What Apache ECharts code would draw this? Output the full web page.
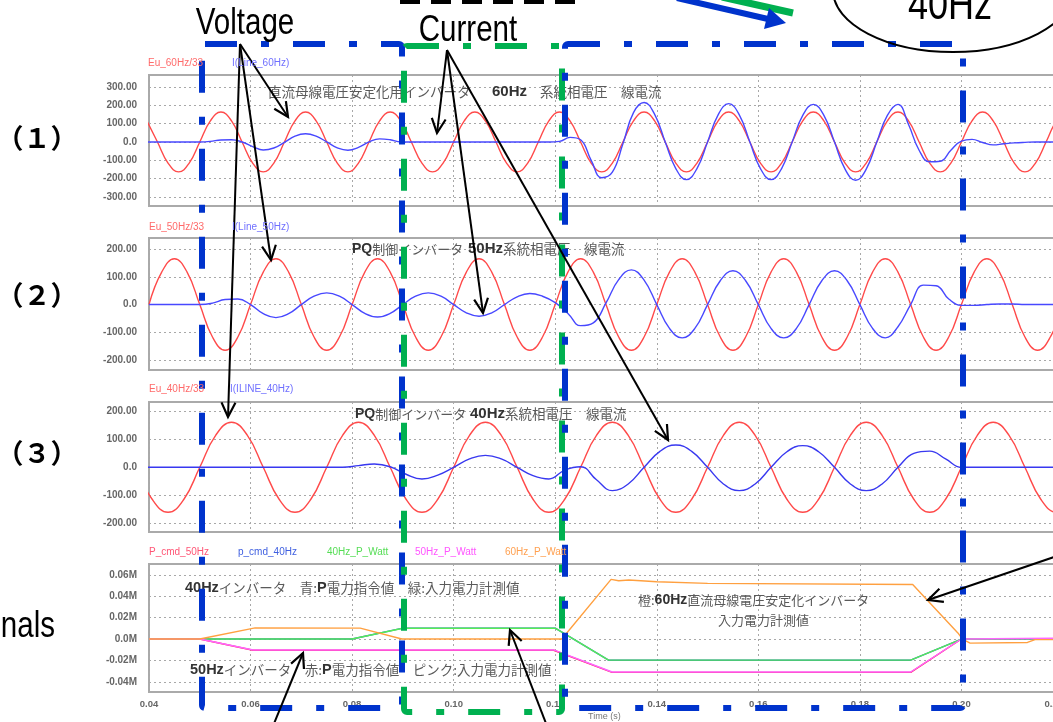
<!DOCTYPE html>
<html><head><meta charset="utf-8">
<script src="https://cdn.jsdelivr.net/npm/echarts@6/dist/echarts.min.js"></script>
<style>html,body{margin:0;padding:0;background:#fff}#c{width:1053px;height:722px}</style>
</head><body><div id="c"></div>
<script>
// ---------------- data ----------------
const xMin = 0.04, xMax = 0.22, xStep = 0.02;
const yTicks1 = [-300, -200, -100, 0, 100, 200, 300];
const yTicks2 = [-200, -100, 0, 100, 200];
const yTicks3 = [-200, -100, 0, 100, 200];
const yTicks4 = [-0.04, -0.02, 0, 0.02, 0.04, 0.06];

// panel (1): 60Hz, sampled every 1/8 period
const t60Start = 0.039583, t60Step = 0.0020833;
const eu60 = [115,0,-115,-163,-115,0,115,163, 115,0,-115,-163,-115,0,115,163,
  115,0,-115,-163,-115,0,115,163, 115,0,-115,-163,-115,0,115,163,
  115,0,-115,-163,-115,0,115,163, 115,0,-115,-163,-115,0,115,163,
  115,0,-115,-163,-115,0,115,163, 115,0,-115,-163,-115,0,115,163,
  115,0,-115,-163,-115,0,115,163, 115,0,-115,-163,-115,0,115,163,
  115,0,-115,-163,-115,0,115,163];
const iLine60 = [0,0,0,0,0, 0,3,11,12,0, -25,-44,-33,-2,32, 45,32,0,-32,-45,
  -30,0,17,12,0, 0,0,0,0,0, 0,0,0,0,0, 0,0,0,0,3,
  25,12,-100,-195,-165, -10,160,215,150,0, -145,-205,-145,0,148, 209,148,0,-145,-205,
  -145,0,145,205,145, 0,-148,-209,-148,0, 145,205,95,-45,-108, -105,-45,5,14,-3,
  -16,-10,-5,-2,0, 0,0,0];

// panel (2): 50Hz
const t50Start = 0.04, t50Step = 0.0025;
const eu50 = [0,117,165,117,0,-117,-165,-117, 0,117,165,117,0,-117,-165,-117,
  0,117,165,117,0,-117,-165,-117, 0,117,165,117,0,-117,-165,-117,
  0,117,165,117,0,-117,-165,-117, 0,117,165,117,0,-117,-165,-117,
  0,117,165,117,0,-117,-165,-117, 0,117,165,117,0,-117,-165,-117,
  0,117,165,117,0,-117,-165,-117, 0];
const iLine50 = [0,0,0,0,0, 5,18,20,0,-33, -47,-33,0,30,42, 30,0,-32,-45,-32,
  0,30,42,30,0, -30,-42,-30,0,28, 40,30,7,-32,-76, -66,6,90,125,88,
  0,-86,-120,-86,0, 86,122,86,0,-86, -120,-86,0,86,122, 86,0,-86,-120,-80,
  0,70,68,20,-3, -3,0,2,2,0, 0,0,0];

// panel (3): 40Hz
const t40Start = 0.0375, t40Step = 0.003125;
const eu40 = [0,-115,-162,-115,0,115,162,115, 0,-115,-162,-115,0,115,162,115,
  0,-115,-162,-115,0,115,162,115, 0,-115,-162,-115,0,115,162,115,
  0,-115,-162,-115,0,115,162,115, 0,-115,-162,-115,0,115,162,115,
  0,-115,-162,-115,0,115,162,115, 0,-115,-162,-115];
const iLine40 = [0,0,0,0,0,0,0,0,0,0,0,0,0,0, 6,12,2,-25,-42,-28,
  0,30,43,30,0,-30,-42,-10, 2,-45,-84,-60, 0,57,80,57,0,-60,-84,-60,
  0,56,78,56,0,-60,-84,-60, 0,50,58,30,0, 0,0,0,0,0,0,0];

// panel (4): power signals (M)
const pCmd50T = [0.04,0.05,0.0605,0.1197,0.1312,0.19,0.2,0.222];
const pCmd50V = [0,0,-0.0105,-0.0105,-0.0312,-0.0312,0,0.0004];
const pCmd40T = [0.04,0.08,0.09,0.12,0.1305,0.19,0.2,0.222];
const pCmd40V = [0,0,0.0102,0.0102,-0.0198,-0.0198,0,0.0002];
const watt40T = [0.04,0.08,0.09,0.12,0.1305,0.19,0.2,0.222];
const watt40V = [0,0,0.0101,0.0101,-0.0197,-0.0197,0,0.0003];
const watt50T = [0.04,0.05,0.0605,0.1197,0.1312,0.19,0.2,0.222];
const watt50V = [0,0,-0.0102,-0.0102,-0.0308,-0.0308,0,0.0008];
const watt60T = [0.04,0.05,0.0609,0.0816,0.0898,0.1213,0.131,0.1325,0.1345,0.14,0.15,0.1904,0.1993,0.2002,0.2017,0.213,0.2145,0.222];
const watt60V = [0,0,0.0104,0.0102,0,0,0.0557,0.0545,0.0552,0.0535,0.052,0.051,0.0057,0,-0.0038,-0.0032,-0.0006,-0.0006];

// ---------------- helpers ----------------
const sampled = (start, step, vals) => vals.map((v, i) => [start + i * step, v]);
const paired = (ts, vs) => ts.map((t, i) => [t, vs[i]]);

const LBL = "'Liberation Sans', Arial, sans-serif";
const JP = "'Noto Sans CJK JP', sans-serif";

const grids = [
  {left:149, width:914, top:75, height:131},
  {left:149, width:914, top:238, height:132},
  {left:149, width:914, top:402, height:130},
  {left:149, width:914, top:564, height:128}
].map(g => Object.assign(g, {show:true, borderColor:'#aaaaaa', borderWidth:2, backgroundColor:'rgba(0,0,0,0)',
  containLabel:false, outerBoundsMode:'none'}));

const yCfg = [
  {min:-349, max:365, ticks:yTicks1},
  {min:-236, max:240, ticks:yTicks2},
  {min:-233, max:235, ticks:yTicks3},
  {min:-0.0495, max:0.0701, ticks:yTicks4}
];

const xAxes = [0,1,2,3].map(i => ({
  type:'value', gridIndex:i, min:xMin, max:xMax, interval:xStep,
  axisLine:{show:false}, axisTick:{show:false},
  splitLine:{show:true, lineStyle:{color:'#a8a8a8', width:1, type:[2,3]}},
  axisLabel:{show:i===3, formatter:v => v.toFixed(2), fontSize:9.5, fontWeight:'bold',
    color:'#666', fontFamily:LBL, margin:7, alignMaxLabel:'right'}
}));

const yAxes = yCfg.map((c, i) => ({
  type:'value', gridIndex:i, min:c.min, max:c.max,
  axisLine:{show:false},
  axisTick:{show:false, customValues:c.ticks},
  splitLine:{show:true, lineStyle:{color:'#a8a8a8', width:1, type:[2,3]}},
  axisLabel:{customValues:c.ticks, fontSize:10, fontWeight:'bold', color:'#666', fontFamily:LBL, margin:12,
    formatter: v => i === 3 ? (v === 0 ? '0.0M' : v.toFixed(2) + 'M') : (v === 0 ? '0.0' : v.toFixed(2))}
}));

function line(name, g, data, color, smooth) {
  return {name, type:'line', xAxisIndex:g, yAxisIndex:g, data, showSymbol:false, smooth:smooth ? 0.45 : false,
    lineStyle:{color, width:1.4}, itemStyle:{color}, animation:false, z:3};
}

const series = [
  line('Eu_60Hz/33', 0, sampled(t60Start, t60Step, eu60), '#ff4a4a', true),
  line('I(Line_60Hz)', 0, sampled(t60Start, t60Step, iLine60), '#4848ff', true),
  line('Eu_50Hz/33', 1, sampled(t50Start, t50Step, eu50), '#ff4a4a', true),
  line('I(Line_50Hz)', 1, sampled(t50Start, t50Step, iLine50), '#4848ff', true),
  line('Eu_40Hz/33', 2, sampled(t40Start, t40Step, eu40), '#ff4a4a', true),
  line('I(ILINE_40Hz)', 2, sampled(t40Start, t40Step, iLine40), '#3838f0', true),
  line('P_cmd_50Hz', 3, paired(pCmd50T, pCmd50V), '#ff2050', false),
  line('p_cmd_40Hz', 3, paired(pCmd40T, pCmd40V), '#3050e0', false),
  line('40Hz_P_Watt', 3, paired(watt40T, watt40V), '#55ee55', false),
  line('50Hz_P_Watt', 3, paired(watt50T, watt50V), '#ff66ff', false),
  line('60Hz_P_Watt', 3, paired(watt60T, watt60V), '#ffa040', false)
];

// ---------------- annotations ----------------
const BLUE = '#0033cc', GREEN = '#00b050';
const dash = [32, 24, 8, 24];
function txt(x, y, text, font, fill, align, z) {
  return {type:'text', z:z || 120, style:{x, y, text, font, fill, align:align || 'left', verticalAlign:'middle',
    textAlign:align || 'left', textVerticalAlign:'middle'}};
}
// condensed big text (horizontally scaled)
function ntxt(x, y, text, size, align) {
  return {type:'text', z:120, x, y, scaleX:0.82, style:{x:0, y:0, text, font:size + 'px ' + LBL, fill:'#000',
    align:align || 'center', verticalAlign:'middle', textAlign:align || 'center', textVerticalAlign:'middle'}};
}
function rich(x, y, text, size, z) {
  return {type:'text', z:z || 1, style:{x, y, text, align:'left', verticalAlign:'middle', textAlign:'left', textVerticalAlign:'middle',
    rich:{
      n:{fontSize:size, fontFamily:JP, fill:'#5a5a5a'},
      b:{fontSize:size + 1, fontFamily:LBL, fontWeight:'bold', fill:'#333'}
    }}};
}
function box(x, y, w, h, c) {
  return {type:'rect', z:100, shape:{x, y, width:w, height:h, r:3}, style:{fill:'none', stroke:c, lineWidth:6, lineDash:dash}};
}
function arrow(x1, y1, x2, y2) {
  const a = Math.atan2(y2 - y1, x2 - x1), L = 16, s = 0.45;
  return [
    {type:'line', z:110, shape:{x1, y1, x2, y2}, style:{stroke:'#000', lineWidth:2}},
    {type:'polyline', z:110, shape:{points:[[x2 - L*Math.cos(a - s), y2 - L*Math.sin(a - s)], [x2, y2],
      [x2 - L*Math.cos(a + s), y2 - L*Math.sin(a + s)]]}, style:{stroke:'#000', lineWidth:2.2, fill:'none'}}
  ];
}

const legendFont = '10px ' + LBL;
const graphics = [
  // series names above each panel
  txt(148, 63, 'Eu_60Hz/33', legendFont, '#ff6a6a'),
  txt(232, 63, 'I(Line_60Hz)', legendFont, '#7070ff'),
  txt(149, 227, 'Eu_50Hz/33', legendFont, '#ff6a6a'),
  txt(232, 227, 'I(Line_50Hz)', legendFont, '#7070ff'),
  txt(149, 389, 'Eu_40Hz/33', legendFont, '#ff6a6a'),
  txt(230, 389, 'I(ILINE_40Hz)', legendFont, '#7070ff'),
  txt(149, 552, 'P_cmd_50Hz', legendFont, '#ff5575'),
  txt(238, 552, 'p_cmd_40Hz', legendFont, '#4060e0'),
  txt(327, 552, '40Hz_P_Watt', legendFont, '#55dd55'),
  txt(415, 552, '50Hz_P_Watt', legendFont, '#ff55ff'),
  txt(505, 552, '60Hz_P_Watt', legendFont, '#ffa050'),
  txt(588, 717, 'Time (s)', '9px ' + LBL, '#777', 'left', 90),
  // panel titles
  rich(268, 92, '{n|直流母線電圧安定化用インバータ}', 13.5),
  rich(492, 92, '{b|60Hz}', 14),
  rich(540, 92, '{n|系統相電圧　線電流}', 13.5),
  rich(352, 249, '{b|PQ}{n|制御インバータ}', 13),
  rich(468, 249, '{b|50Hz}', 14),
  rich(503, 249, '{n|系統相電圧　線電流}', 13.5),
  rich(355, 414, '{b|PQ}{n|制御インバータ}', 13),
  rich(470, 414, '{b|40Hz}', 14),
  rich(505, 414, '{n|系統相電圧　線電流}', 13.5),
  rich(185, 588, '{b|40Hz}{n|インバータ　青:}{b|P}{n|電力指令値　緑:入力電力計測値}', 13.5),
  rich(190, 670, '{b|50Hz}{n|インバータ　赤:}{b|P}{n|電力指令値　ピンク:入力電力計測値}', 13.5),
  rich(638, 600, '{n|橙:}{b|60Hz}{n|直流母線電圧安定化インバータ}', 13),
  rich(718, 620, '{n|入力電力計測値}', 13),
  // dash-dot boxes
  box(202, 44, 200, 664, BLUE),
  box(404, 46, 158, 666, GREEN),
  box(565, 44, 398, 664, BLUE),
  // top decorations
  {type:'line', z:105, shape:{x1:400, y1:1.5, x2:580, y2:1.5}, style:{stroke:'#000', lineWidth:5, lineDash:[20, 11]}},
  {type:'line', z:105, shape:{x1:722, y1:-3, x2:793, y2:13}, style:{stroke:GREEN, lineWidth:7}},
  {type:'line', z:106, shape:{x1:677, y1:-2, x2:768, y2:19}, style:{stroke:BLUE, lineWidth:6}},
  {type:'polygon', z:106, shape:{points:[[786, 23], [764, 29], [769, 8]]}, style:{fill:BLUE}},
  {type:'ellipse', z:105, shape:{cx:953, cy:-10, rx:120, ry:62}, style:{fill:'none', stroke:'#000', lineWidth:2}},
  ntxt(950, 7, '40Hz', 44),
  ntxt(245, 24, 'Voltage', 36),
  ntxt(468, 31, 'Current', 36),
  txt(37, 138, '（１）', 'bold 27px ' + JP, '#000', 'center'),
  txt(37, 295, '（２）', 'bold 27px ' + JP, '#000', 'center'),
  txt(37, 453, '（３）', 'bold 27px ' + JP, '#000', 'center'),
  ntxt(55, 627, 'Signals', 36, 'right')
].concat(
  arrow(240, 44, 288, 117), arrow(240, 44, 271, 260), arrow(240, 44, 228, 417),
  arrow(447, 50, 437, 133), arrow(447, 50, 483, 313), arrow(447, 50, 668, 440),
  arrow(273, 726, 303, 653), arrow(547, 726, 510, 630), arrow(1060, 555, 928, 600)
);

const chart = echarts.init(document.getElementById('c'), null, {renderer:'canvas'});
chart.setOption({
  backgroundColor:'#ffffff',
  animation:false,
  grid:grids, xAxis:xAxes, yAxis:yAxes, series,
  graphic:{elements:graphics}
});
</script>
</body></html>
